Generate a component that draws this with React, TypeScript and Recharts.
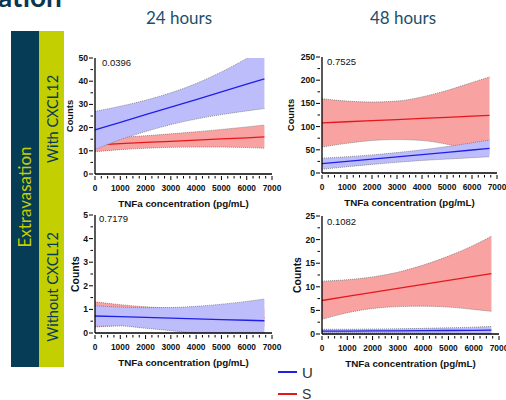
import React from 'react';
import { ComposedChart, Area, Line, XAxis, YAxis, Label } from 'recharts';

const tnfa = [0, 1000, 2000, 3000, 4000, 5000, 6000, 6700];

// 24 hours, with CXCL12
const u24wFit = [19, 22.3, 25.6, 28.8, 32.1, 35.4, 38.7, 41];
const u24wLow = [10.5, 14.8, 18.3, 21.3, 23.7, 25.6, 27.2, 28.2];
const u24wHigh = [27, 29.2, 31.8, 35, 39, 44, 49.8, 54];
const s24wFit = [12.5, 13.1, 13.6, 14.1, 14.6, 15.1, 15.6, 16.0];
const s24wLow = [9.6, 10.5, 11.1, 11.5, 11.6, 11.6, 11.4, 11.1];
const s24wHigh = [15.2, 15.8, 16.5, 17.3, 18.2, 19.2, 20.3, 21.1];

// 48 hours, with CXCL12
const u48wFit = [20, 24.9, 29.9, 34.8, 39.7, 44.6, 49.6, 53];
const u48wLow = [8, 13.5, 18.5, 23, 27, 30, 33, 35];
const u48wHigh = [32, 35, 39, 44, 50, 57, 65, 71];
const s48wFit = [108, 110.4, 112.8, 115.2, 117.6, 120, 122.4, 124];
const s48wLow = [56, 64, 70, 72, 70, 62, 50, 41];
const s48wHigh = [160, 155, 153, 155, 164, 178, 195, 207];

// 24 hours, without CXCL12
const u24oFit = [0.72, 0.69, 0.66, 0.63, 0.6, 0.57, 0.54, 0.52];
const u24oLow = [0.28, 0.3, 0.2, 0.1, -0.02, -0.15, -0.3, -0.4];
const u24oHigh = [1.15, 1.1, 1.07, 1.08, 1.13, 1.22, 1.34, 1.44];
const s24oFit = [0.78, 0.76, 0.74, 0.72, 0.7, 0.68, 0.66, 0.65];
const s24oLow = [0.25, 0.32, 0.37, 0.36, 0.36, 0.33, 0.29, 0.27];
const s24oHigh = [1.32, 1.2, 1.11, 1.06, 1.04, 1.03, 1.03, 1.03];

// 48 hours, without CXCL12
const u48oFit = [0.6, 0.62, 0.65, 0.68, 0.71, 0.74, 0.77, 0.8];
const u48oLow = [0.2, 0.22, 0.22, 0.2, 0.18, 0.14, 0.1, 0.05];
const u48oHigh = [1.0, 1.0, 1.05, 1.1, 1.2, 1.3, 1.45, 1.6];
const s48oFit = [7.1, 7.95, 8.8, 9.65, 10.5, 11.35, 12.2, 12.8];
const s48oLow = [3.1, 4.5, 5.4, 5.8, 5.9, 5.7, 5.2, 4.8];
const s48oHigh = [11.2, 11.5, 12.1, 13.1, 14.6, 16.5, 18.8, 20.7];

const xMajor = [0, 1000, 2000, 3000, 4000, 5000, 6000, 7000];
const yMajor24w = [0, 10, 20, 30, 40, 50];
const yMajor48w = [0, 50, 100, 150, 200, 250];
const yMajor24o = [0, 1, 2, 3, 4, 5];
const yMajor48o = [0, 5, 10, 15, 20, 25];

const pValues = ['0.0396', '0.7525', '0.7179', '0.1082'];
const timeLabels = ['24 hours', '48 hours'];
const rowLabels = ['With CXCL12', 'Without CXCL12'];
const seriesNames = ['U', 'S'];

const BLUE = '#1f1fe6';
const RED = '#e8161c';
const BLUE_FILL = '#bdbdfc';
const RED_FILL = '#f8a2a2';
const NAVY = '#063c56';
const LIME = '#c3cf00';
const FONT = '"Liberation Sans", Arial, sans-serif';

function withMinor(major: number[], parts: number) {
  const out: number[] = [];
  for (let i = 0; i < major.length - 1; i++) {
    const step = (major[i + 1] - major[i]) / parts;
    for (let k = 0; k < parts; k++) out.push(major[i] + k * step);
  }
  out.push(major[major.length - 1]);
  return out;
}

function buildRows(
  uFit: number[], uLow: number[], uHigh: number[],
  sFit: number[], sLow: number[], sHigh: number[],
) {
  return tnfa.map((x, i) => ({
    x,
    uFit: uFit[i],
    uBand: [uLow[i], uHigh[i]],
    sFit: sFit[i],
    sBand: [sLow[i], sHigh[i]],
  }));
}

const data24w = buildRows(u24wFit, u24wLow, u24wHigh, s24wFit, s24wLow, s24wHigh);
const data48w = buildRows(u48wFit, u48wLow, u48wHigh, s48wFit, s48wLow, s48wHigh);
const data24o = buildRows(u24oFit, u24oLow, u24oHigh, s24oFit, s24oLow, s24oHigh);
const data48o = buildRows(u48oFit, u48oLow, u48oHigh, s48oFit, s48oLow, s48oHigh);

const makeXTick = (props: any) => {
  const { x, y, payload } = props;
  const v = payload.value;
  const major = xMajor.includes(v);
  return (
    <g>
      <line x1={x} y1={y} x2={x} y2={y + (major ? 4 : 2.5)} stroke="#000" strokeWidth={1} />
      {major && (
        <text x={x} y={y + 14.5} textAnchor="middle" fontSize={8.4} fontWeight="bold" fill="#111" fontFamily={FONT}>
          {v}
        </text>
      )}
    </g>
  );
};

const yTickFor = (major: number[]) => (props: any) => {
  const { x, y, payload } = props;
  const v = payload.value;
  const isMajor = major.includes(v);
  return (
    <g>
      <line x1={x} y1={y} x2={x - (isMajor ? 4 : 2.5)} y2={y} stroke="#000" strokeWidth={1} />
      {isMajor && (
        <text x={x - 5} y={y + 3} textAnchor="end" fontSize={8.6} fontWeight="bold" fill="#111" fontFamily={FONT}>
          {v}
        </text>
      )}
    </g>
  );
};

interface PanelProps {
  data: any[];
  yMajor: number[];
  yParts: number;
  left: number;
  top: number;
  width: number;
  height: number;
  axisWidth: number;
  marginRight: number;
  countsDx: number;
  countsSize: number;
}

function Panel({ data, yMajor, yParts, left, top, width, height, axisWidth, marginRight, countsDx, countsSize }: PanelProps) {
  const yMax = yMajor[yMajor.length - 1];
  return (
    <div style={{ position: 'absolute', left, top }}>
      <ComposedChart
        width={width}
        height={height}
        data={data}
        margin={{ top: 8, right: marginRight, bottom: 0, left: 0 }}
        style={{ fontFamily: FONT }}
      >
        <XAxis
          dataKey="x"
          type="number"
          domain={[0, 7000]}
          ticks={withMinor(xMajor, 4)}
          interval={0}
          height={36}
          tickSize={0}
          tickLine={false}
          tick={makeXTick}
          axisLine={{ stroke: '#000', strokeWidth: 1.3 }}
        >
          <Label
            value="TNFa concentration (pg/mL)"
            position="insideBottom"
            offset={3}
            fontSize={9.8}
            fontWeight="bold"
            fill="#111"
            style={{ fontSize: 9.8, fontWeight: 'bold', fill: '#111', fontFamily: FONT }}
          />
        </XAxis>
        <YAxis
          type="number"
          domain={[0, yMax]}
          allowDataOverflow
          ticks={withMinor(yMajor, yParts)}
          interval={0}
          width={axisWidth}
          tickSize={0}
          tickLine={false}
          tick={yTickFor(yMajor)}
          axisLine={{ stroke: '#000', strokeWidth: 1.3 }}
        >
          <Label
            value="Counts"
            angle={-90}
            position="center"
            dx={countsDx}
            fontSize={countsSize}
            fontWeight="bold"
            fill="#111"
            style={{ fontSize: countsSize, fontWeight: 'bold', fill: '#111', fontFamily: FONT, textAnchor: 'middle' }}
          />
        </YAxis>
        {/* S band + fit first, then U band covers it, then U fit on top */}
        <Area
          dataKey="sBand"
          type="monotone"
          fill={RED_FILL}
          fillOpacity={1}
          stroke="#777"
          strokeWidth={0.8}
          strokeDasharray="1 1"
          isAnimationActive={false}
        />
        <Area
          dataKey="sFit"
          type="linear"
          fill="none"
          fillOpacity={0}
          stroke={RED}
          strokeWidth={1.3}
          dot={false}
          activeDot={false}
          isAnimationActive={false}
        />
        <Area
          dataKey="uBand"
          type="monotone"
          fill={BLUE_FILL}
          fillOpacity={1}
          stroke="#777"
          strokeWidth={0.8}
          strokeDasharray="1 1"
          isAnimationActive={false}
        />
        <Line dataKey="uFit" type="linear" stroke={BLUE} strokeWidth={1.3} dot={false} isAnimationActive={false} />
      </ComposedChart>
    </div>
  );
}

export default function App() {
  return (
    <div style={{ position: 'absolute', left: 0, top: 0, width: 506, height: 400, background: '#fff', overflow: 'hidden' }}>
      <Panel data={data24w} yMajor={yMajor24w} yParts={2} left={60} top={50} width={222} height={160} axisWidth={35} marginRight={10} countsDx={-7.5} countsSize={9.4} />
      <Panel data={data48w} yMajor={yMajor48w} yParts={2} left={277} top={49} width={229} height={160} axisWidth={45} marginRight={9} countsDx={-8.5} countsSize={9.4} />
      <Panel data={data24o} yMajor={yMajor24o} yParts={2} left={60} top={207} width={222} height={162} axisWidth={35} marginRight={10} countsDx={-2.5} countsSize={10.4} />
      <Panel data={data48o} yMajor={yMajor48o} yParts={2} left={277} top={208} width={230} height={162} axisWidth={45} marginRight={8} countsDx={-2.5} countsSize={10.4} />

      <svg width={506} height={400} style={{ position: 'absolute', left: 0, top: 0, pointerEvents: 'none' }}>
        <text x={-2} y={7} fontSize={28} fontWeight="bold" fill="#0b3550" fontFamily="Lato, sans-serif">ation</text>

        <text x={179} y={24} textAnchor="middle" fontSize={17} fill="#1d4f6b" fontFamily="Lato, sans-serif">{timeLabels[0]}</text>
        <text x={403} y={24} textAnchor="middle" fontSize={17} fill="#1d4f6b" fontFamily="Lato, sans-serif">{timeLabels[1]}</text>

        <rect x={11} y={31} width={28} height={336} fill={NAVY} />
        <rect x={39} y={31} width={25} height={336} fill={LIME} />
        <text transform="translate(25,197) rotate(-90)" dy="0.35em" textAnchor="middle" fontSize={17} fill={LIME} fontFamily="Lato, sans-serif">Extravasation</text>
        <text transform="translate(52.5,119) rotate(-90)" dy="0.35em" textAnchor="middle" fontSize={14.5} fill={NAVY} fontFamily="Lato, sans-serif">{rowLabels[0]}</text>
        <text transform="translate(52.5,287) rotate(-90)" dy="0.35em" textAnchor="middle" fontSize={14.5} fill={NAVY} fontFamily="Lato, sans-serif">{rowLabels[1]}</text>

        <g fontFamily={FONT} fontSize={9.5} fill="#111">
          <text x={102} y={65.5}>{pValues[0]}</text>
          <text x={327} y={64.5}>{pValues[1]}</text>
          <text x={99} y={221.5}>{pValues[2]}</text>
          <text x={327} y={224.5}>{pValues[3]}</text>
        </g>

        <line x1={278} y1={372} x2={297} y2={372} stroke={BLUE} strokeWidth={2} />
        <text x={302} y={377.5} fontSize={15} fill="#333" fontFamily={FONT}>{seriesNames[0]}</text>
        <line x1={278} y1={394} x2={297} y2={394} stroke={RED} strokeWidth={2} />
        <text x={302} y={398.5} fontSize={14} fill="#333" fontFamily={FONT}>{seriesNames[1]}</text>
      </svg>
    </div>
  );
}
